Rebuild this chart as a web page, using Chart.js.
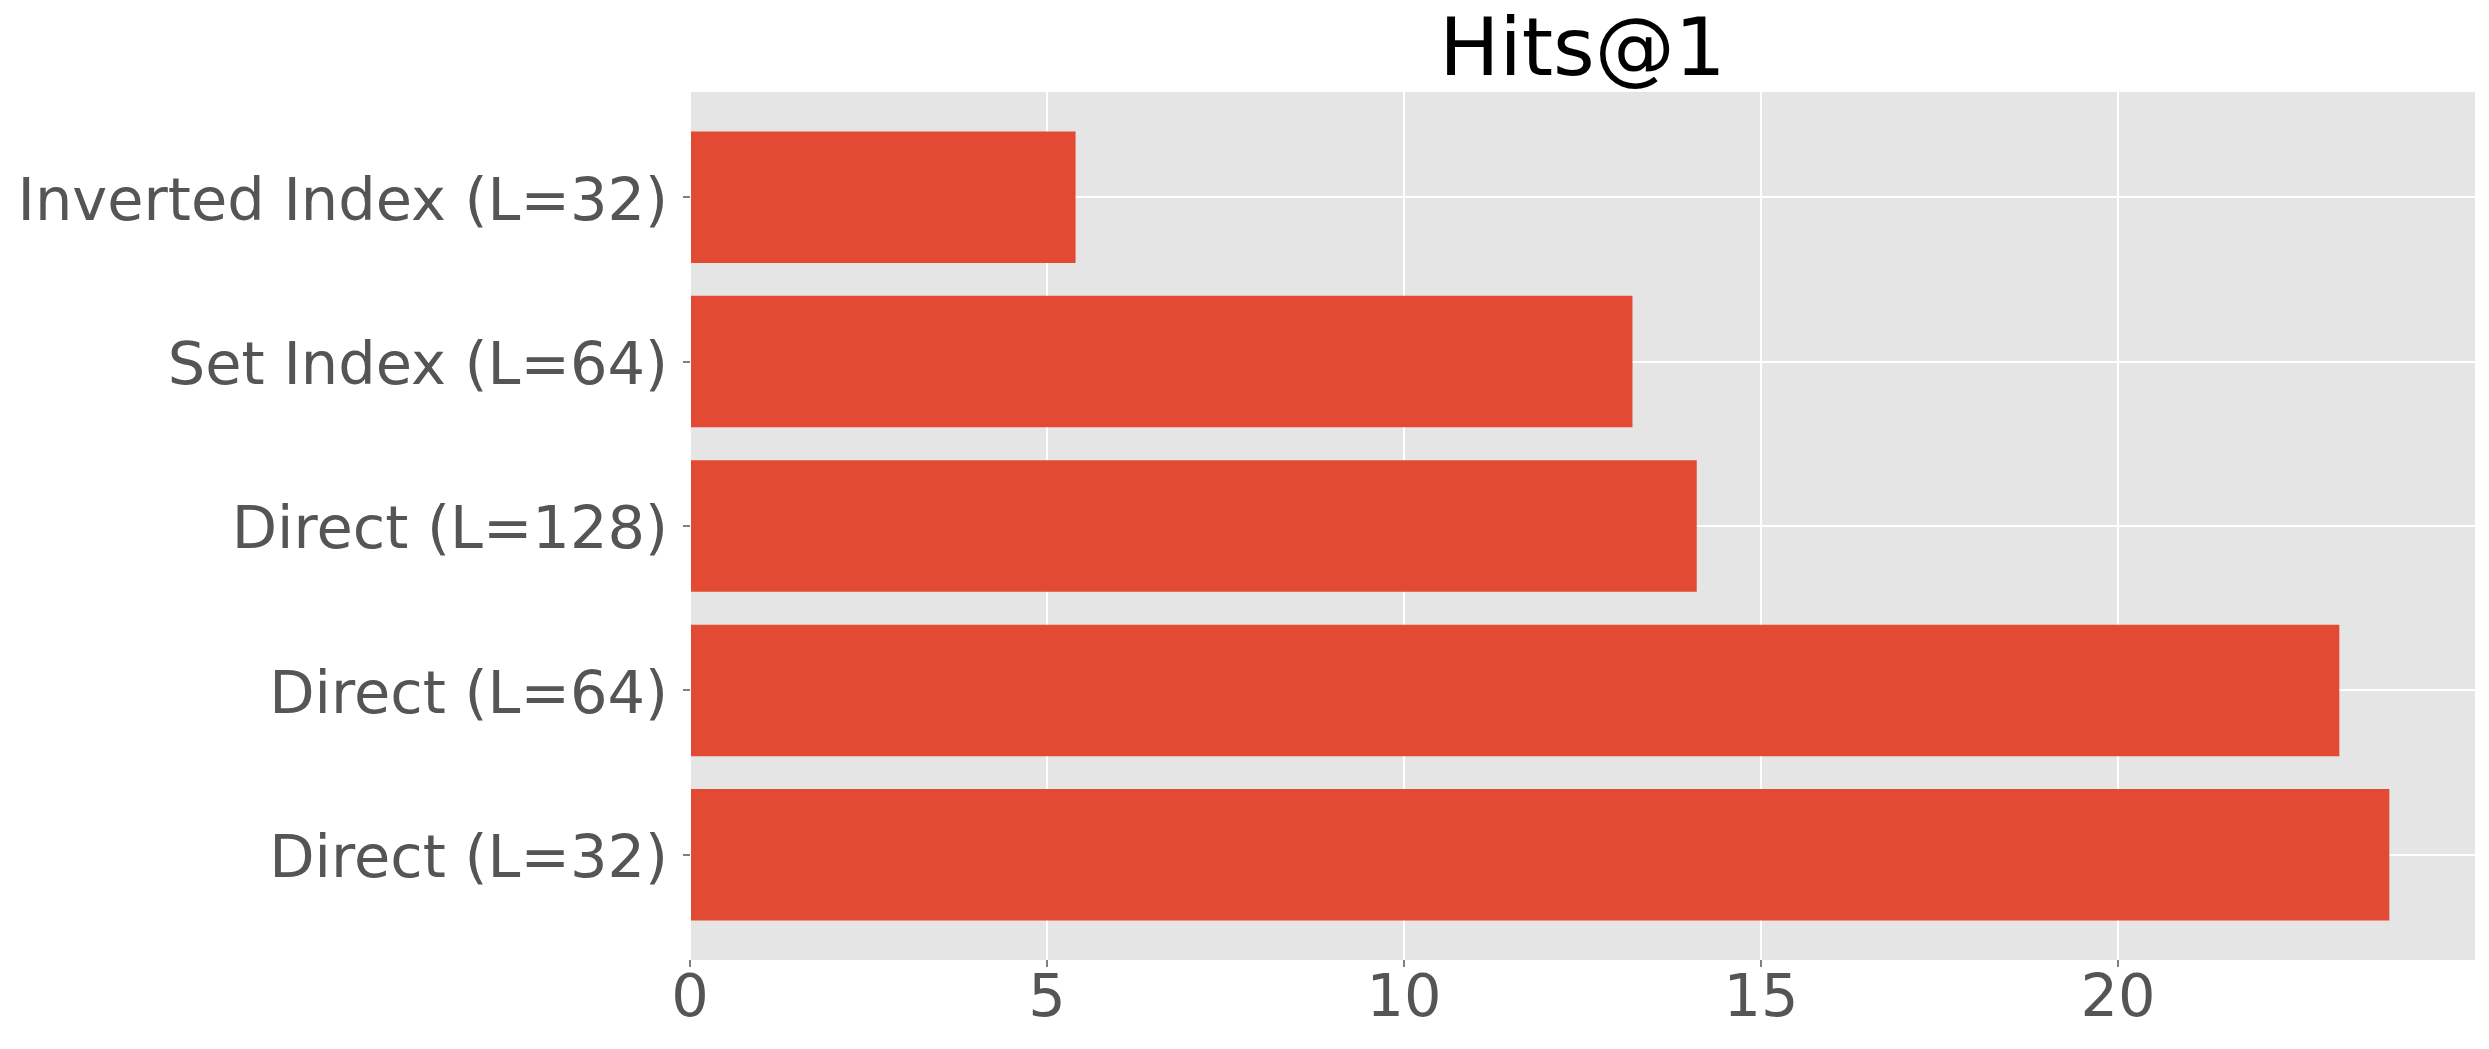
<!DOCTYPE html>
<html>
<head>
<meta charset="utf-8">
<script src="https://cdn.jsdelivr.net/npm/chart.js@4"></script>
<style>
  html, body { margin: 0; padding: 0; background: #ffffff; }
  #wrap { width: 2489px; height: 1049px; }
</style>
</head>
<body>
<div id="wrap"><canvas id="mycanvas" width="2489" height="1049"></canvas></div>
<script>
// categories from bottom to top (matplotlib barh order)
const methodLabels = ["Direct (L=32)", "Direct (L=64)", "Direct (L=128)", "Set Index (L=64)", "Inverted Index (L=32)"]
const hitsAt1 = [23.8, 23.1, 14.1, 13.2, 5.4]
const xTickValues = [0, 5, 10, 15, 20]

const BAR_COLOR = "#E24A33"
const PANEL_BG = "#E5E5E5"
const TICK_COLOR = "#555555"
const FONT = "'DejaVu Sans', sans-serif"

// grey panel behind the bars, like ggplot style
const panelBackground = {
  id: "panelBackground",
  beforeDraw(chart) {
    const ctx = chart.ctx
    const a = chart.chartArea
    ctx.save()
    ctx.fillStyle = "#ffffff"
    ctx.fillRect(0, 0, chart.width, chart.height)
    ctx.fillStyle = PANEL_BG
    ctx.fillRect(a.left, a.top, a.right - a.left, a.bottom - a.top)
    ctx.restore()
  }
}

var points = hitsAt1.map((v, i) => ({ x: v, y: i }))

const ctx = document.getElementById("mycanvas").getContext("2d")
window.chart = new Chart(ctx, {
  type: "bar",
  data: {
    datasets: [{
      data: points,
      backgroundColor: BAR_COLOR,
      borderWidth: 0,
      categoryPercentage: 0.8,
      barPercentage: 1.0
    }]
  },
  options: {
    indexAxis: "y",
    responsive: false,
    animation: false,
    layout: { padding: { left: 0, right: 14, top: 0, bottom: 0 } },
    plugins: {
      legend: { display: false },
      tooltip: { enabled: false },
      title: {
        display: true,
        text: "Hits@1",
        color: "#000000",
        fullSize: false,
        font: { family: FONT, size: 80, weight: "normal", lineHeight: 1 },
        padding: { top: 14, bottom: -2 }
      }
    },
    scales: {
      x: {
        type: "linear",
        min: 0,
        max: 25,
        offset: false,
        afterBuildTicks: (scale) => {
          scale.ticks = xTickValues.map(v => ({ value: v }))
        },
        afterFit: (scale) => { scale.height = 89 },
        grid: {
          offset: false,
          color: "#ffffff",
          lineWidth: 2,
          drawTicks: true,
          tickLength: 7,
          tickColor: TICK_COLOR,
          tickWidth: 1.5
        },
        border: { display: false },
        ticks: {
          color: TICK_COLOR,
          padding: 4,
          font: { family: FONT, size: 59, lineHeight: 1 }
        }
      },
      y: {
        type: "linear",
        min: -0.64,
        max: 4.64,
        offset: false,
        afterBuildTicks: (scale) => {
          scale.ticks = methodLabels.map((_, i) => ({ value: i }))
        },
        afterFit: (scale) => { scale.width = 690 },
        grid: {
          offset: false,
          color: "#ffffff",
          lineWidth: 2,
          drawTicks: true,
          tickLength: 7,
          tickColor: TICK_COLOR,
          tickWidth: 1.5
        },
        border: { display: false },
        ticks: {
          color: TICK_COLOR,
          padding: 15,
          labelOffset: 7,
          font: { family: FONT, size: 59, lineHeight: 1 },
          callback: (value) => methodLabels[value]
        }
      }
    }
  },
  plugins: [panelBackground]
})
</script>
</body>
</html>
